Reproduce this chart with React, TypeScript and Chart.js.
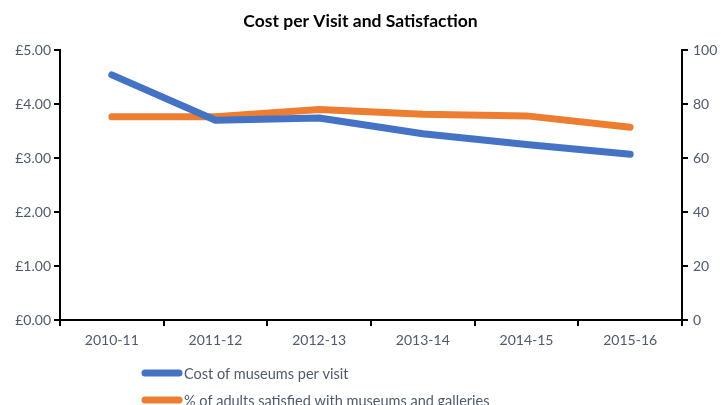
import React, { useEffect, useRef } from "react";
import { Chart, registerables } from "chart.js";

Chart.register(...registerables);

const categories = ["2010-11", "2011-12", "2012-13", "2013-14", "2014-15", "2015-16"];
const costPerVisit = [4.54, 3.7, 3.74, 3.45, 3.25, 3.07];
const satisfaction = [75.3, 75.3, 78.0, 76.2, 75.6, 71.4];
const seriesNames = ["Cost of museums per visit", "% of adults satisfied with museums and galleries"];
const seriesColors = ["#4472C4", "#ED7D31"];
const titleText = "Cost per Visit and Satisfaction";

const FONT = "Lato, 'Open Sans', sans-serif";
const TICK_COLOR = "#505a6b";

const legendPlugin = {
  id: "stackedLegend",
  afterDraw(chart: any) {
    const ctx = chart.ctx;
    const items = chart.data.datasets;
    ctx.save();
    items.forEach((ds: any, i: number) => {
      const y = 373 + i * 27;
      ctx.strokeStyle = ds.borderColor;
      ctx.lineWidth = 7;
      ctx.lineCap = "round";
      ctx.beginPath();
      ctx.moveTo(145, y);
      ctx.lineTo(179, y);
      ctx.stroke();
      ctx.fillStyle = TICK_COLOR;
      ctx.font = `14.5px ${FONT}`;
      ctx.textBaseline = "middle";
      ctx.textAlign = "left";
      ctx.fillText(ds.label, 184, y + 1);
    });
    ctx.restore();
  },
};

export default function App() {
  const ref = useRef<HTMLCanvasElement>(null);
  useEffect(() => {
    if (!ref.current) return;
    const axisGrid = {
      drawOnChartArea: false,
      drawTicks: true,
      tickLength: 6,
      color: "#000",
      lineWidth: 2,
    };
    const chart = new Chart(ref.current, {
      type: "line",
      data: {
        labels: categories,
        datasets: [
          {
            label: seriesNames[0],
            data: costPerVisit,
            borderColor: seriesColors[0],
            backgroundColor: seriesColors[0],
            borderWidth: 7,
            borderCapStyle: "round",
            borderJoinStyle: "round",
            pointRadius: 0,
            tension: 0,
            yAxisID: "y",
          },
          {
            label: seriesNames[1],
            data: satisfaction,
            borderColor: seriesColors[1],
            backgroundColor: seriesColors[1],
            borderWidth: 7,
            borderCapStyle: "round",
            borderJoinStyle: "round",
            pointRadius: 0,
            tension: 0,
            yAxisID: "y1",
          },
        ],
      },
      options: {
        animation: false,
        responsive: true,
        maintainAspectRatio: false,
        layout: { padding: 0 },
        plugins: {
          legend: { display: false },
          tooltip: { enabled: false },
          title: {
            display: true,
            text: titleText,
            color: "#000",
            font: { family: FONT, size: 17.5, weight: "bold" },
            padding: { top: 11, bottom: 18 },
          },
        },
        scales: {
          x: {
            type: "category",
            offset: true,
            grid: { ...axisGrid, offset: true },
            border: { color: "#000", width: 2 },
            ticks: { color: TICK_COLOR, font: { family: FONT, size: 14 }, padding: 6, maxRotation: 0 },
            afterFit: (s: any) => {
              s.height = 85;
            },
          },
          y: {
            position: "left",
            min: 0,
            max: 5,
            grid: axisGrid,
            border: { color: "#000", width: 2 },
            ticks: {
              stepSize: 1,
              color: TICK_COLOR,
              font: { family: FONT, size: 14 },
              padding: 3,
              callback: (v: any) => "£" + Number(v).toFixed(2),
            },
            afterFit: (s: any) => {
              s.width = 60;
            },
          },
          y1: {
            position: "right",
            min: 0,
            max: 100,
            grid: axisGrid,
            border: { color: "#000", width: 2 },
            ticks: { stepSize: 20, color: TICK_COLOR, font: { family: FONT, size: 14 }, padding: 5 },
            afterFit: (s: any) => {
              s.width = 39;
            },
          },
        },
      },
      plugins: [legendPlugin],
    } as any);
    return () => chart.destroy();
  }, []);
  return (
    <div style={{ position: "absolute", left: 0, top: 0, width: 721, height: 405, background: "#fff" }}>
      <canvas ref={ref} />
    </div>
  );
}
